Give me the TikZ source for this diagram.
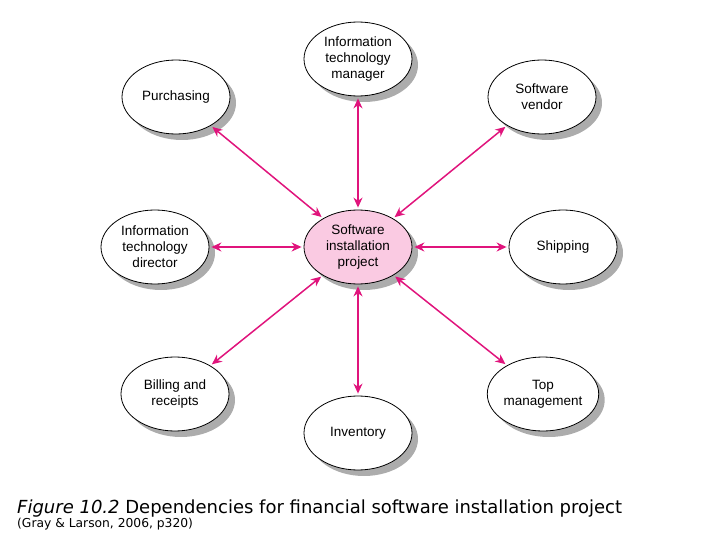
\documentclass[tikz,border=0pt]{standalone}
\usepackage{fontspec}
\setmainfont{Liberation Sans}
\newfontfamily\capfont{DejaVu Sans}
\usetikzlibrary{arrows.meta, shapes.geometric, shadows}
\definecolor{linkpink}{RGB}{224,20,124}
\definecolor{hubpink}{RGB}{250,202,226}
\definecolor{shadegrey}{RGB}{172,172,172}

\begin{document}
\begin{tikzpicture}[
        x=1pt, y=-1pt,
        font=\fontsize{13.5}{16}\selectfont,
        >={Stealth[length=10pt, width=9pt]},
        party/.style={ellipse, draw, line width=0.8pt, fill=white, align=center, inner sep=0pt,
            minimum width=108pt, minimum height=74pt,
            drop shadow={shadow xshift=6pt, shadow yshift=-6pt, fill=shadegrey, opacity=1}},
        hub/.style={party, fill=hubpink},
        link/.style={<->, draw=linkpink, line width=1.5pt, shorten >=2pt, shorten <=2pt},
        captext/.style={anchor=base west, inner sep=0pt}
    ]
        \useasboundingbox (0,0) rectangle (720,540);
        % --- Project in the middle ---
        \node[hub] (proj) at (358,247) {Software\\ installation\\ project};
        % --- Parties round it ---
        \node[party] (itmgr) at (358,59) {Information\\ technology\\ manager};
        \node[party] (purch) at (176,97) {Purchasing};
        \node[party] (vendor) at (542,97) {Software\\ vendor};
        \node[party] (itdir) at (155,247) {Information\\ technology\\ director};
        \node[party] (ship) at (563,247) {Shipping};
        \node[party] (bill) at (175,394) {Billing and\\ receipts};
        \node[party] (topm) at (543,394) {Top\\ management};
        \node[party] (inv) at (358,433) {Inventory};

        % --- Dependencies ---
        \foreach \p in {itmgr, purch, vendor, itdir, ship, bill, topm, inv}
            \draw[link] (proj) -- (\p);

        % --- Caption ---
        \node[captext, font=\fontsize{18}{20}\selectfont\capfont] (title) at (17,513)
            {\textit{Figure 10.2} Dependencies for financial software installation project};
        \node[captext, font=\fontsize{12.3}{14}\selectfont\capfont] (source) at (17,527)
            {(Gray \& Larson, 2006, p320)};
    \end{tikzpicture}
\end{document}
